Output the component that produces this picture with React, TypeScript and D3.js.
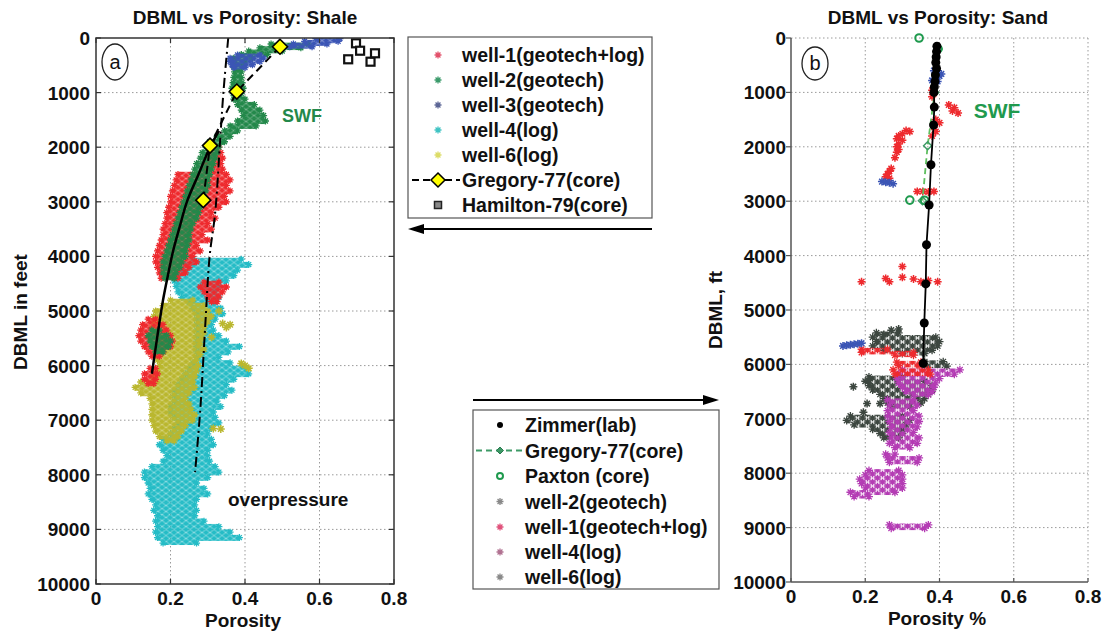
import React from "react";
import * as d3 from "d3";

// ---------------- data ----------------
const POROSITY_TICKS = [0, 0.2, 0.4, 0.6, 0.8];
const DEPTH_TICKS = [0, 1000, 2000, 3000, 4000, 5000, 6000, 7000, 8000, 9000, 10000];

// Log/geotech clouds as depth rows: [depth ft, min porosity, max porosity]
type Row = [number, number, number];
type Pt = [number, number]; // [porosity, depth]

// ---- Shale panel (a)
const WELL4_SHALE: Row[][] = [[
  [4050, .26, .39], [4150, .24, .41], [4250, .23, .38], [4350, .22, .37], [4450, .21, .35],
  [4550, .215, .33], [4650, .22, .32], [4750, .23, .33], [4850, .25, .32], [4950, .26, .335],
  [5050, .27, .34], [5150, .27, .32], [5250, .27, .31], [5350, .27, .315], [5450, .27, .33],
  [5550, .27, .35], [5650, .27, .385], [5750, .27, .355], [5850, .27, .33], [5950, .26, .36],
  [6050, .25, .405], [6150, .24, .41], [6250, .23, .37], [6350, .22, .35], [6450, .21, .365],
  [6550, .21, .345], [6650, .21, .325], [6750, .20, .335], [6850, .20, .315], [6950, .21, .32],
  [7050, .22, .33], [7150, .21, .31], [7250, .20, .30], [7350, .18, .31], [7450, .17, .315],
  [7550, .18, .30], [7650, .19, .30], [7750, .18, .305], [7850, .15, .32], [7950, .13, .33],
  [8050, .13, .30], [8150, .14, .27], [8250, .145, .29], [8350, .14, .30], [8450, .15, .27],
  [8550, .16, .265], [8650, .155, .27], [8750, .165, .265], [8850, .16, .29], [8950, .165, .33],
  [9050, .16, .36], [9150, .165, .385], [9250, .18, .27],
]];
const WELL6_SHALE: Row[][] = [[
  [4800, .20, .26], [4900, .18, .29], [5000, .16, .30], [5100, .155, .31], [5200, .155, .30],
  [5300, .15, .29], [5400, .16, .29], [5500, .17, .285], [5600, .17, .28], [5700, .165, .29],
  [5800, .16, .28], [5900, .165, .27], [6000, .17, .275], [6100, .165, .27], [6200, .15, .265],
  [6300, .12, .26], [6400, .105, .265], [6500, .12, .25], [6600, .145, .24], [6700, .15, .25],
  [6800, .15, .255], [6900, .15, .265], [7000, .15, .26], [7100, .155, .24], [7200, .16, .23],
  [7300, .17, .22], [7380, .19, .21],
]];
const WELL6_SHALE_PTS: Pt[] = [
  [.33, 5000], [.34, 5230], [.36, 5250], [.35, 5300], [.39, 5960], [.40, 6000], [.41, 6050],
  [.315, 7150], [.335, 7160], [.31, 5480],
];
const WELL1_SHALE: Row[][] = [
  [
    [2000, .31, .33], [2100, .305, .335], [2200, .30, .34], [2300, .295, .335], [2400, .29, .34],
    [2500, .22, .35], [2600, .215, .36], [2700, .21, .35], [2800, .205, .36], [2900, .20, .345],
    [3000, .20, .35], [3100, .195, .33], [3200, .19, .31], [3300, .19, .32], [3400, .185, .30],
    [3500, .18, .31], [3600, .18, .285], [3700, .175, .30], [3800, .17, .27], [3900, .165, .28],
    [4000, .16, .26], [4100, .16, .27], [4200, .165, .25], [4300, .17, .24], [4400, .175, .22],
  ],
  [[4470, .29, .33], [4560, .28, .35], [4650, .29, .34], [4740, .30, .33], [4830, .31, .325]],
  [
    [5150, .14, .16], [5250, .125, .18], [5350, .12, .19], [5450, .115, .20], [5550, .12, .205],
    [5650, .13, .20], [5750, .14, .18], [5830, .15, .17],
  ],
  [[6050, .145, .16], [6150, .13, .165], [6250, .13, .16], [6330, .14, .155]],
];
const WELL2_SHALE: Row[][] = [
  [
    [110, .47, .57], [180, .44, .55], [240, .41, .50], [300, .39, .46], [370, .37, .42],
    [440, .37, .40], [520, .37, .395], [620, .372, .39], [720, .37, .39], [820, .368, .392],
    [920, .365, .395], [1020, .368, .39], [1120, .37, .40], [1220, .38, .425], [1320, .39, .44],
    [1420, .395, .45], [1520, .38, .455], [1610, .36, .43], [1700, .345, .38], [1800, .325, .36],
    [1900, .305, .345], [2000, .295, .33], [2100, .285, .325], [2200, .28, .32], [2300, .27, .315],
    [2400, .265, .31], [2500, .26, .305], [2600, .255, .30], [2700, .25, .30], [2800, .245, .295],
    [2900, .24, .29], [3000, .235, .29], [3100, .23, .28], [3200, .225, .275], [3300, .22, .27],
    [3400, .215, .26], [3500, .21, .255], [3600, .205, .25], [3700, .20, .25], [3800, .195, .245],
    [3900, .19, .24], [4000, .185, .24], [4100, .18, .23], [4200, .18, .225], [4300, .18, .215],
    [4400, .185, .21],
  ],
  [[5350, .15, .17], [5450, .14, .19], [5550, .145, .20], [5650, .15, .195], [5750, .16, .18]],
];
const WELL3_SHALE: Row[][] = [
  [[10, .59, .655], [60, .56, .65], [110, .53, .62], [160, .52, .58]],
  [[310, .38, .44], [370, .36, .45], [430, .36, .44], [490, .365, .42], [540, .37, .40]],
];
const SHALE_TREND: Pt[] = [
  [.33, 1700], [.306, 2000], [.275, 2500], [.244, 3000], [.225, 3450], [.207, 3900],
  [.193, 4350], [.18, 4800], [.165, 5450], [.15, 6150],
];
const SHALE_COMPACTION: Pt[] = [
  [.355, 0], [.342, 1000], [.333, 1900], [.32, 3200], [.305, 4000], [.293, 5300], [.28, 6800], [.266, 7950],
];
const GREGORY_SHALE: Pt[] = [[.494, 160], [.378, 980], [.306, 1970], [.288, 2970]];
const HAMILTON_SHALE: Pt[] = [[.677, 390], [.698, 97], [.709, 233], [.737, 434], [.749, 280]];

// ---- Sand panel (b)
const WELL6_SAND: Row[][] = [
  [[5420, .23, .29], [5500, .22, .39], [5580, .23, .40], [5660, .22, .395], [5740, .25, .38], [5800, .30, .36]],
  [[5950, .36, .41], [6030, .36, .42]],
  [
    [6230, .21, .30], [6310, .20, .36], [6390, .21, .38], [6470, .22, .38], [6550, .24, .37],
    [6630, .25, .36], [6710, .26, .35], [6780, .27, .32],
  ],
  [[6950, .16, .30], [7030, .15, .32], [7110, .17, .31], [7190, .22, .30], [7270, .24, .30], [7350, .25, .29]],
];
const WELL6_SAND_PTS: Pt[] = [
  [.168, 6410], [.195, 6880], [.205, 6720], [.24, 6720], [.27, 5370], [.29, 5350], [.25, 5450], [.21, 6300],
];
const WELL4_SAND: Row[][] = [
  [[6100, .30, .455], [6180, .29, .44], [6260, .285, .40], [6340, .29, .39], [6420, .30, .385], [6500, .31, .38], [6560, .33, .37]],
  [
    [6650, .26, .33], [6750, .265, .34], [6850, .26, .33], [6950, .26, .345], [7050, .265, .345],
    [7150, .27, .34], [7250, .265, .33], [7350, .27, .345], [7450, .265, .34], [7530, .28, .32],
  ],
  [[7650, .255, .28], [7720, .26, .345], [7800, .265, .34]],
  [[7950, .21, .29], [8030, .20, .30], [8110, .185, .30], [8190, .19, .30], [8270, .20, .30], [8350, .16, .28], [8430, .17, .21]],
  [[8950, .265, .37], [9010, .27, .36]],
];
const WELL1_SAND: Row[][] = [
  [[5720, .19, .26], [5780, .19, .33], [5830, .28, .33]],
  [[5960, .285, .35], [6020, .29, .345]],
  [[6100, .275, .37], [6180, .28, .375]],
];
const WELL1_SAND_PTS: Pt[] = [
  [.38, 960], [.385, 1020], [.38, 1080], [.425, 1230], [.44, 1280], [.435, 1340], [.45, 1380],
  [.39, 1500], [.40, 1560], [.385, 1640], [.39, 1720], [.38, 1800], [.31, 1700], [.32, 1720],
  [.30, 1760], [.29, 1800], [.285, 1850], [.30, 1880], [.29, 1950], [.285, 2000], [.29, 2050],
  [.285, 2100], [.28, 2200], [.27, 2400], [.265, 2450], [.26, 2500], [.255, 2550], [.265, 2580],
  [.34, 2820], [.355, 2820], [.37, 2830], [.385, 2820], [.30, 4200], [.19, 4480], [.255, 4420],
  [.265, 4480], [.30, 4400], [.33, 4430], [.35, 4480], [.37, 4460], [.395, 4480],
];
const WELL3_SAND_PTS: Pt[] = [
  [.385, 600], [.395, 640], [.40, 700], [.39, 740], [.38, 780], [.395, 800], [.405, 660],
  [.245, 2640], [.255, 2650], [.265, 2660], [.275, 2680],
  [.14, 5660], [.15, 5650], [.16, 5640], [.17, 5630], [.18, 5620], [.19, 5610],
];
const ZIMMER_SAND: Pt[] = [
  [.393, 150], [.392, 250], [.391, 350], [.39, 450], [.392, 560], [.389, 680], [.388, 800],
  [.386, 900], [.385, 1000], [.386, 1270], [.384, 1600], [.377, 2330], [.372, 3070],
  [.365, 3800], [.363, 4520], [.359, 5240], [.356, 5980],
];
const PAXTON_SAND: Pt[] = [[.345, 0], [.396, 200], [.32, 2980], [.36, 2985]];
const GREGORY_SAND: Pt[] = [[.396, 200], [.387, 1000], [.368, 1980], [.354, 2990]];

const LEGEND_SHALE = ["well-1(geotech+log)", "well-2(geotech)", "well-3(geotech)", "well-4(log)", "well-6(log)", "Gregory-77(core)", "Hamilton-79(core)"];
const LEGEND_SAND = ["Zimmer(lab)", "Gregory-77(core)", "Paxton (core)", "well-2(geotech)", "well-1(geotech+log)", "well-4(log)", "well-6(log)"];

// ---------------- styles ----------------
const FONT = "'Liberation Sans', Arial, Helvetica, sans-serif";
const FS = 19;
const C = {
  red: "#ee2a2e",
  green: "#23884a",
  blue: "#3b55b5",
  cyan: "#25bcc6",
  yellow: "#bab72e",
  dark: "#3c463f",
  magenta: "#b43cb4",
  paxton: "#1f9a4e",
};

function star(cx: number, cy: number, r: number) {
  const k = r * 0.7;
  return `M${cx - r},${cy}h${2 * r}M${cx},${cy - r}v${2 * r}M${cx - k},${cy - k}l${2 * k},${2 * k}M${cx - k},${cy + k}l${2 * k},${-2 * k}`;
}

// staggered asterisk texture used to fill dense log clouds
function Pattern({ id, color, w, h, r, bg, sw = 1.1 }: { id: string; color: string; w: number; h: number; r: number; bg: number; sw?: number }) {
  return (
    <pattern id={id} width={w} height={h} patternUnits="userSpaceOnUse">
      {bg > 0 && <rect width={w} height={h} fill={color} opacity={bg} />}
      <path
        d={star(w / 4, h / 4, r) + star((3 * w) / 4, (3 * h) / 4, r) + star(w / 4 + w, h / 4, r) + star(w / 4, h / 4 + h, r) + star((3 * w) / 4 - w, (3 * h) / 4, r) + star((3 * w) / 4, (3 * h) / 4 - h, r)}
        stroke={color}
        strokeWidth={sw}
        fill="none"
      />
    </pattern>
  );
}

function Cloud({ blobs, x, y, fill, color, er = 3.5 }: { blobs: Row[][]; x: any; y: any; fill: string; color: string; er?: number }) {
  const rects: JSX.Element[] = [];
  let edge = "";
  blobs.forEach((rows, bi) => {
    rows.forEach((r, i) => {
      const prev = i > 0 ? rows[i - 1][0] : r[0] - 50;
      const next = i < rows.length - 1 ? rows[i + 1][0] : r[0] + 50;
      const top = y((prev + r[0]) / 2);
      const bot = y((r[0] + next) / 2);
      rects.push(
        <rect key={`${bi}-${i}`} x={x(r[1])} y={top} width={x(r[2]) - x(r[1])} height={bot - top + 0.6} fill={fill} />
      );
      edge += star(x(r[1]), y(r[0]), er) + star(x(r[2]), y(r[0]), er);
    });
  });
  return (
    <g>
      {rects}
      <path d={edge} stroke={color} strokeWidth={1.3} fill="none" />
    </g>
  );
}

function Stars({ pts, x, y, color, r = 4 }: { pts: Pt[]; x: any; y: any; color: string; r?: number }) {
  return (
    <path d={pts.map((p) => star(x(p[0]), y(p[1]), r)).join("")} stroke={color} strokeWidth={1.5} fill="none" />
  );
}

function diamond(cx: number, cy: number, r: number) {
  return `M${cx},${cy - r}L${cx + r},${cy}L${cx},${cy + r}L${cx - r},${cy}Z`;
}

export default function App() {
  const xL = d3.scaleLinear().domain([0, 0.8]).range([96, 394]);
  const yL = d3.scaleLinear().domain([0, 10000]).range([38, 584]);
  const xR = d3.scaleLinear().domain([0, 0.8]).range([791, 1088]);
  const yR = d3.scaleLinear().domain([0, 10000]).range([38, 582]);

  const lineL = d3.line<Pt>().x((d) => xL(d[0])).y((d) => yL(d[1]));
  const lineLs = d3.line<Pt>().x((d) => xL(d[0])).y((d) => yL(d[1])).curve(d3.curveCatmullRom);
  const lineR = d3.line<Pt>().x((d) => xR(d[0])).y((d) => yR(d[1]));

  const tickStyle = { fontFamily: FONT, fontWeight: 700, fontSize: FS, fill: "#111" } as const;
  const gridStroke = "#9a9a9a";

  const leftLegendY = [55, 80, 105, 130, 155, 180, 205];
  const rightLegendY = [425, 450.5, 476, 501.5, 527, 552, 577];

  return (
    <svg width={1108} height={634} viewBox="0 0 1108 634" style={{ position: "absolute", left: 0, top: 0, background: "#fff" }}>
      <defs>
        <Pattern id="pRed" color={C.red} w={8} h={6} r={2.6} bg={0.55} />
        <Pattern id="pGreen" color={C.green} w={8} h={6} r={2.6} bg={0.65} />
        <Pattern id="pBlue" color={C.blue} w={8} h={6} r={2.6} bg={0.55} />
        <Pattern id="pCyan" color={C.cyan} w={8} h={6} r={2.6} bg={0.55} />
        <Pattern id="pYellow" color={C.yellow} w={8} h={6} r={2.6} bg={0.65} />
        <Pattern id="pDarkR" color={C.dark} w={10} h={8} r={3.3} bg={0.1} sw={1.3} />
        <Pattern id="pMagR" color={C.magenta} w={10} h={8} r={3.3} bg={0.1} sw={1.3} />
        <Pattern id="pRedR" color={C.red} w={10} h={8} r={3.3} bg={0.1} sw={1.3} />
        <clipPath id="clipL"><rect x={96} y={38} width={298} height={546} /></clipPath>
      </defs>
      <rect width={1108} height={634} fill="#fff" />

      {/* ---------- Panel a: shale ---------- */}
      <text x={245} y={24} textAnchor="middle" {...tickStyle}>DBML vs Porosity: Shale</text>
      <g>
        {POROSITY_TICKS.slice(1, -1).map((t) => (
          <line key={t} x1={xL(t)} x2={xL(t)} y1={38} y2={584} stroke={gridStroke} strokeWidth={1} strokeDasharray="1.5,2.5" />
        ))}
        {DEPTH_TICKS.slice(1, -1).map((t) => (
          <line key={t} x1={96} x2={394} y1={yL(t)} y2={yL(t)} stroke={gridStroke} strokeWidth={1} strokeDasharray="1.5,2.5" />
        ))}
      </g>
      <g clipPath="url(#clipL)">
        <Cloud blobs={WELL4_SHALE} x={xL} y={yL} fill="url(#pCyan)" color={C.cyan} />
        <Cloud blobs={WELL6_SHALE} x={xL} y={yL} fill="url(#pYellow)" color={C.yellow} />
        <Stars pts={WELL6_SHALE_PTS} x={xL} y={yL} color={C.yellow} />
        <Cloud blobs={WELL1_SHALE} x={xL} y={yL} fill="url(#pRed)" color={C.red} />
        <Cloud blobs={WELL2_SHALE} x={xL} y={yL} fill="url(#pGreen)" color={C.green} />
        <Cloud blobs={WELL3_SHALE} x={xL} y={yL} fill="url(#pBlue)" color={C.blue} />
        <path d={lineLs(SHALE_TREND) || ""} fill="none" stroke="#000" strokeWidth={2.5} />
        <path d={lineLs(SHALE_COMPACTION) || ""} fill="none" stroke="#000" strokeWidth={2} strokeDasharray="10,4,2,4" />
        <path d={lineL(GREGORY_SHALE) || ""} fill="none" stroke="#000" strokeWidth={2} strokeDasharray="8,5" />
        {GREGORY_SHALE.map((p, i) => (
          <path key={i} d={diamond(xL(p[0]), yL(p[1]), 7.5)} fill="#ffff00" stroke="#000" strokeWidth={1.6} />
        ))}
        {HAMILTON_SHALE.map((p, i) => (
          <rect key={i} x={xL(p[0]) - 4} y={yL(p[1]) - 4} width={8} height={8} fill="#fff" stroke="#111" strokeWidth={2.2} />
        ))}
      </g>
      <rect x={96} y={38} width={298} height={546} fill="none" stroke="#333" strokeWidth={1.5} />
      {DEPTH_TICKS.map((t) => (
        <g key={t}>
          <line x1={96} x2={101} y1={yL(t)} y2={yL(t)} stroke="#333" strokeWidth={1.2} />
          <line x1={389} x2={394} y1={yL(t)} y2={yL(t)} stroke="#333" strokeWidth={1.2} />
          <text x={90} y={yL(t) + 7} textAnchor="end" {...tickStyle}>{t}</text>
        </g>
      ))}
      {POROSITY_TICKS.map((t) => (
        <g key={t}>
          <line x1={xL(t)} x2={xL(t)} y1={584} y2={579} stroke="#333" strokeWidth={1.2} />
          <line x1={xL(t)} x2={xL(t)} y1={38} y2={43} stroke="#333" strokeWidth={1.2} />
          <text x={xL(t)} y={605} textAnchor="middle" {...tickStyle}>{t}</text>
        </g>
      ))}
      <text x={243} y={627} textAnchor="middle" {...tickStyle}>Porosity</text>
      <text transform="translate(27,312) rotate(-90)" textAnchor="middle" {...tickStyle}>DBML in feet</text>
      <ellipse cx={115} cy={62} rx={13} ry={18} fill="#fff" stroke="#222" strokeWidth={1.3} />
      <text x={115} y={68.5} textAnchor="middle" fontFamily="'Liberation Sans Narrow', 'Liberation Sans', Arial" fontSize={20} fill="#111">a</text>
      <text x={302} y={122} textAnchor="middle" fontFamily={FONT} fontWeight={700} fontSize={18} fill={C.green}>SWF</text>
      <text x={228} y={506} fontFamily={FONT} fontWeight={700} fontSize={FS} fill="#111">overpressure</text>

      {/* ---------- Legend (shale) ---------- */}
      <rect x={408} y={37} width={244} height={181} fill="#fff" stroke="#555" strokeWidth={1.2} />
      {LEGEND_SHALE.map((s, i) => (
        <text key={s} x={462} y={leftLegendY[i] + 7} fontFamily={FONT} fontWeight={700} fontSize={19.5} fill="#111">{s}</text>
      ))}
      <path d={star(438, leftLegendY[0], 3.5)} stroke="#e2506a" strokeWidth={1.3} />
      <path d={star(438, leftLegendY[1], 3.5)} stroke="#3a9a6a" strokeWidth={1.3} />
      <path d={star(438, leftLegendY[2], 3.5)} stroke="#5a6494" strokeWidth={1.3} />
      <path d={star(438, leftLegendY[3], 3.5)} stroke="#3ec3c3" strokeWidth={1.3} />
      <path d={star(438, leftLegendY[4], 3.5)} stroke="#dcdc66" strokeWidth={1.3} />
      <line x1={412} x2={460} y1={leftLegendY[5]} y2={leftLegendY[5]} stroke="#000" strokeWidth={2} strokeDasharray="7,4" />
      <path d={diamond(438, leftLegendY[5], 7)} fill="#ffff00" stroke="#000" strokeWidth={1.5} />
      <rect x={434.5} y={leftLegendY[6] - 3.5} width={7} height={7} fill="#888" stroke="#222" strokeWidth={1.5} />
      {/* arrow to left */}
      <line x1={652} x2={420} y1={229} y2={229} stroke="#000" strokeWidth={2} />
      <path d="M408,229L424,224L424,234Z" fill="#000" />

      {/* ---------- Legend (sand) ---------- */}
      <line x1={473} x2={706} y1={400} y2={400} stroke="#000" strokeWidth={2} />
      <path d="M719,400L703,395L703,405Z" fill="#000" />
      <rect x={473} y={410} width={246} height={179} fill="#fff" stroke="#555" strokeWidth={1.2} />
      {LEGEND_SAND.map((s, i) => (
        <text key={s} x={525} y={rightLegendY[i] + 7} fontFamily={FONT} fontWeight={700} fontSize={19.5} fill="#111">{s}</text>
      ))}
      <circle cx={500} cy={rightLegendY[0]} r={3} fill="#000" />
      <line x1={476} x2={522} y1={rightLegendY[1]} y2={rightLegendY[1]} stroke="#3d9a66" strokeWidth={1.8} strokeDasharray="6,4" />
      <path d={diamond(500, rightLegendY[1], 3.5)} fill="#3d9a66" stroke="#2a7a50" strokeWidth={1} />
      <circle cx={500} cy={rightLegendY[2]} r={3} fill="none" stroke={C.paxton} strokeWidth={2} />
      <path d={star(500, rightLegendY[3], 3.5)} stroke="#888" strokeWidth={1.3} />
      <path d={star(500, rightLegendY[4], 3.5)} stroke="#e0507a" strokeWidth={1.3} />
      <path d={star(500, rightLegendY[5], 3.5)} stroke="#b07090" strokeWidth={1.3} />
      <path d={star(500, rightLegendY[6], 3.5)} stroke="#888" strokeWidth={1.3} />

      {/* ---------- Panel b: sand ---------- */}
      <text x={938} y={24} textAnchor="middle" {...tickStyle}>DBML vs Porosity: Sand</text>
      <g>
        {POROSITY_TICKS.slice(1).map((t) => (
          <line key={t} x1={xR(t)} x2={xR(t)} y1={38} y2={582} stroke={gridStroke} strokeWidth={1} strokeDasharray="1.5,2.5" />
        ))}
        {DEPTH_TICKS.slice(0, -1).map((t) => (
          <line key={t} x1={791} x2={1088} y1={yR(t)} y2={yR(t)} stroke={gridStroke} strokeWidth={1} strokeDasharray="1.5,2.5" />
        ))}
      </g>
      <Cloud blobs={WELL6_SAND} x={xR} y={yR} fill="url(#pDarkR)" color={C.dark} er={4} />
      <Stars pts={WELL6_SAND_PTS} x={xR} y={yR} color={C.dark} />
      <Cloud blobs={WELL4_SAND} x={xR} y={yR} fill="url(#pMagR)" color={C.magenta} er={4} />
      <Cloud blobs={WELL1_SAND} x={xR} y={yR} fill="url(#pRedR)" color={C.red} er={4} />
      <Stars pts={WELL1_SAND_PTS} x={xR} y={yR} color={C.red} />
      <Stars pts={WELL3_SAND_PTS} x={xR} y={yR} color={C.blue} />
      <path d={lineR(GREGORY_SAND) || ""} fill="none" stroke="#5fbf5f" strokeWidth={1.8} strokeDasharray="6,4" />
      {GREGORY_SAND.map((p, i) => (
        <path key={i} d={diamond(xR(p[0]), yR(p[1]), 4)} fill="none" stroke="#3d9a66" strokeWidth={1.5} />
      ))}
      {PAXTON_SAND.map((p, i) => (
        <circle key={i} cx={xR(p[0])} cy={yR(p[1])} r={3.8} fill="none" stroke={C.paxton} strokeWidth={2} />
      ))}
      <path d={lineR(ZIMMER_SAND) || ""} fill="none" stroke="#000" strokeWidth={1.8} />
      {ZIMMER_SAND.map((p, i) => (
        <circle key={i} cx={xR(p[0])} cy={yR(p[1])} r={4.5} fill="#000" />
      ))}
      <line x1={791} x2={791} y1={38} y2={582} stroke="#555" strokeWidth={1.5} />
      <line x1={791} x2={1088} y1={582} y2={582} stroke="#555" strokeWidth={1.5} />
      {DEPTH_TICKS.map((t) => (
        <g key={t}>
          <line x1={786} x2={791} y1={yR(t)} y2={yR(t)} stroke="#555" strokeWidth={1.2} />
          <text x={786} y={yR(t) + 7} textAnchor="end" {...tickStyle}>{t}</text>
        </g>
      ))}
      {POROSITY_TICKS.map((t) => (
        <g key={t}>
          <line x1={xR(t)} x2={xR(t)} y1={582} y2={578} stroke="#555" strokeWidth={1.2} />
          <text x={xR(t)} y={603} textAnchor="middle" {...tickStyle}>{t}</text>
        </g>
      ))}
      <text x={937} y={625} textAnchor="middle" {...tickStyle}>Porosity %</text>
      <text transform="translate(722,310) rotate(-90)" textAnchor="middle" {...tickStyle}>DBML, ft</text>
      <ellipse cx={815} cy={63.5} rx={13} ry={16.5} fill="#fff" stroke="#222" strokeWidth={1.3} />
      <text x={815} y={70} textAnchor="middle" fontFamily="'Liberation Sans Narrow', 'Liberation Sans', Arial" fontSize={20} fill="#111">b</text>
      <text x={997} y={118} textAnchor="middle" fontFamily={FONT} fontWeight={700} fontSize={21} fill={C.paxton}>SWF</text>
    </svg>
  );
}
